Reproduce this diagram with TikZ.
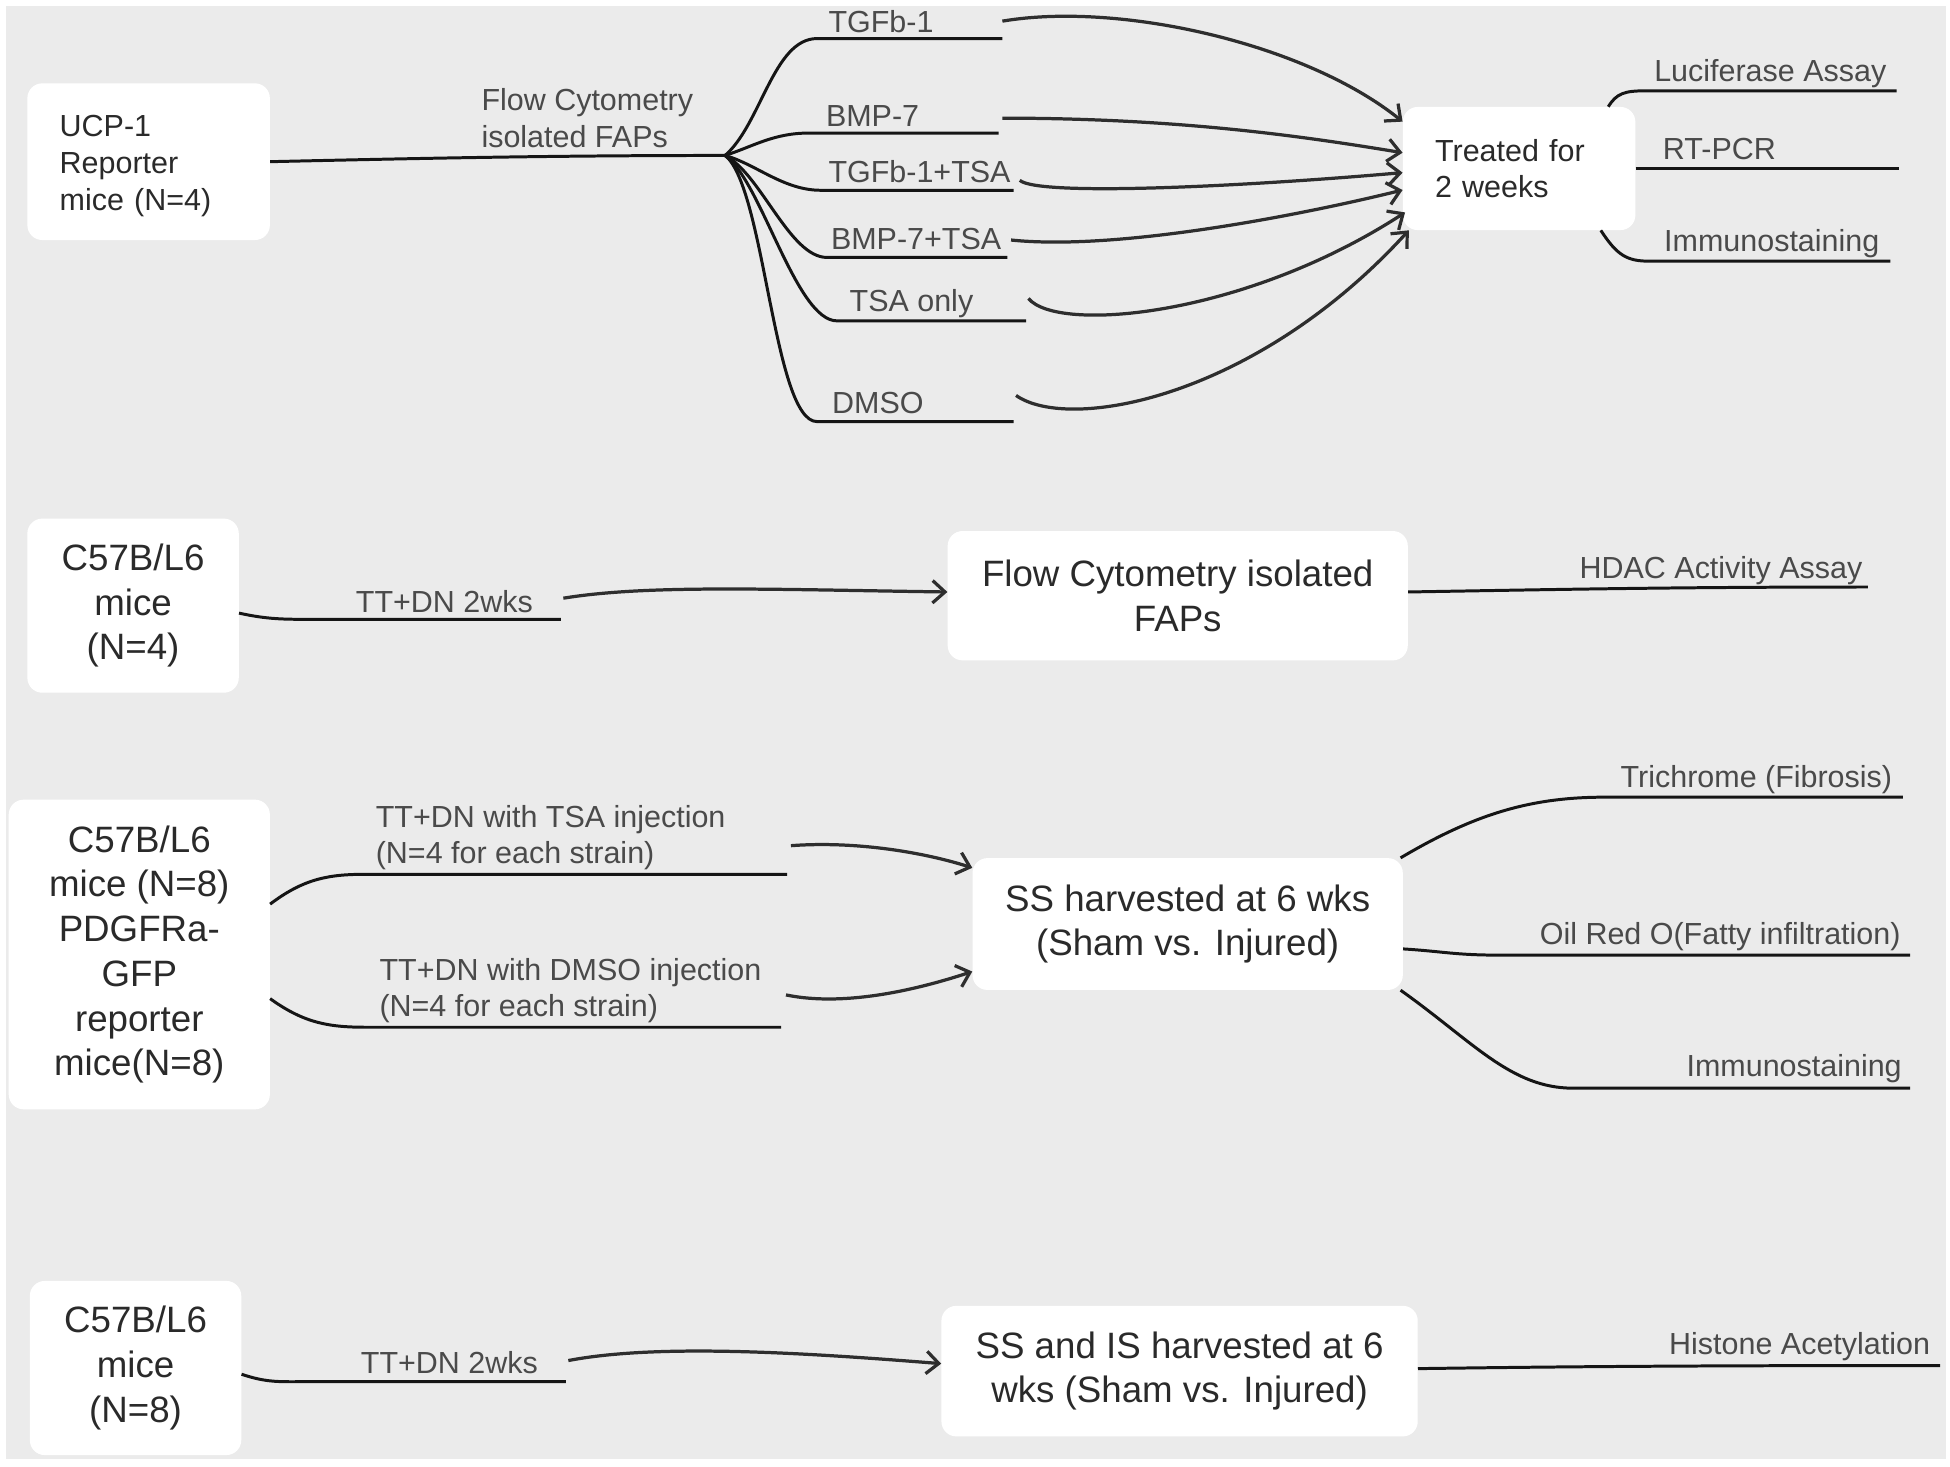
\documentclass[tikz,border=0pt]{standalone}
\usepackage{fontspec}
\setmainfont{Liberation Sans}
\usetikzlibrary{arrows.meta}
\definecolor{bg}{HTML}{EBEBEB}
\definecolor{boxtxt}{HTML}{2A2A2A}
\definecolor{lbl}{HTML}{4A4A4A}
\definecolor{ln}{HTML}{151515}
\definecolor{arrc}{HTML}{2E2E2E}
\begin{document}
\begin{tikzpicture}[x=1pt,y=-1pt,
 box/.style={draw=none,fill=white,rounded corners=12pt,text=boxtxt,inner sep=0pt},
 smallbox/.style={box,font=\fontsize{24.5}{29.5}\selectfont,align=left,inner xsep=26pt},
 bigbox/.style={box,font=\fontsize{29.5}{36}\selectfont,align=center},
 lab/.style={text=lbl,font=\fontsize{24.5}{29.5}\selectfont,inner sep=0pt,anchor=west,align=left},
 conn/.style={draw=ln,line width=2.4pt},
 arr/.style={draw=arrc,line width=2.6pt,-{Straight Barb[length=10pt,width=18pt]}}]
\useasboundingbox (0,0) rectangle (1568,1179);
\fill[bg] (5,5) rectangle (1565,1173);

% ---------------- Row 1 ----------------
\node[smallbox,text width=143pt,minimum height=126pt] (ucp) at (119.5,130) {\rule{0pt}{24pt}UCP-1\\Reporter\\mice (N=4)};
\node[smallbox,text width=135pt,minimum height=99pt] (tr) at (1221.5,135.5) {Treated for\\2 weeks};
\coordinate (bp) at (583,125);
\node[lab] (fcl) at (387,95) {Flow Cytometry\\isolated FAPs};
\draw[conn] (ucp.east) .. controls (350,127) and (450,125) .. (bp);

\coordinate (t1) at (806,31);
\coordinate (t2) at (803,107);
\coordinate (t3) at (815,153);
\coordinate (t4) at (810,207);
\coordinate (t5) at (825,258);
\coordinate (t6) at (815,339);
\draw[conn] (bp) .. controls (612,100) and (622,31) .. (657,31) -- (t1);
\draw[conn] (bp) .. controls (605,118) and (622,107) .. (650,107) -- (t2);
\draw[conn] (bp) .. controls (608,132) and (630,153) .. (660,153) -- (t3);
\draw[conn] (bp) .. controls (612,140) and (635,207) .. (665,207) -- (t4);
\draw[conn] (bp) .. controls (612,145) and (640,258) .. (673,258) -- (t5);
\draw[conn] (bp) .. controls (615,150) and (622,339) .. (657,339) -- (t6);

\node[lab] (l1) at (666,17) {TGFb-1};
\node[lab] (l2) at (664,93) {BMP-7};
\node[lab] (l3) at (666,138) {TGFb-1+TSA};
\node[lab] (l4) at (668,192) {BMP-7+TSA};
\node[lab] (l5) at (683,244) {TSA only};
\node[lab] (l6) at (669,324) {DMSO};

\coordinate (a1) at (806,17);
\coordinate (a2) at (806,95);
\coordinate (a3) at (820,145);
\coordinate (a4) at (813,193);
\coordinate (a5) at (827,240);
\coordinate (a6) at (817,318);
\draw[arr] (a1) .. controls (900,1) and (1050,35) .. ([yshift=-12pt]tr.north west);
\draw[arr] (a2) .. controls (950,95) and (1050,110) .. ([yshift=-37pt]tr.north west);
\draw[arr] (a3) .. controls (835,158) and (1000,150) .. ([yshift=-53pt]tr.north west);
\draw[arr] (a4) .. controls (900,202) and (1050,172) .. ([yshift=-67pt]tr.north west);
\draw[arr] (a5) .. controls (850,268) and (1000,255) .. ([xshift=2pt,yshift=-85pt]tr.north west);
\draw[arr] (a6) .. controls (860,348) and (1010,320) .. ([xshift=5pt]tr.south west);

\coordinate (o1) at (1525,73);
\coordinate (o2) at (1527,135.5);
\coordinate (o3) at (1520,210);
\draw[conn] ([xshift=-22pt]tr.north east) .. controls (1300,75) and (1306,73) .. (1324,73) -- (o1);
\draw[conn] (tr.east) -- (o2);
\draw[conn] ([xshift=-28pt]tr.south east) .. controls (1300,205) and (1308,210) .. (1326,210) -- (o3);
\node[lab] (lo1) at (1330,59) {Luciferase Assay};
\node[lab] (lo2) at (1337,120) {RT-PCR};
\node[lab] (lo3) at (1338,196) {Immunostaining};

% ---------------- Row 2 ----------------
\node[bigbox,minimum width=170pt,minimum height=140pt] (b2) at (107,487) {C57B/L6\\mice\\(N=4)};
\node[bigbox,minimum width=370pt,minimum height=104pt] (fc) at (947,479) {Flow Cytometry isolated\\FAPs};
\coordinate (e2) at (451,498);
\draw[conn] ([yshift=-6pt]b2.east) .. controls (215,498) and (228,498) .. (250,498) -- (e2);
\node[lab] (tt2) at (286,484) {TT+DN 2wks};
\coordinate (s2) at (453,481);
\draw[arr] (s2) .. controls (520,470) and (620,474) .. ([yshift=3pt]fc.west);
\coordinate (h2) at (1502,472);
\draw[conn] ([yshift=3pt]fc.east) .. controls (1250,474) and (1350,472) .. (h2);
\node[lab] (hd) at (1270,459) {HDAC Activity Assay};

% ---------------- Row 3 ----------------
\node[bigbox,minimum width=210pt,minimum height=249pt] (b3) at (112,767.5) {C57B/L6\\mice (N=8)\\PDGFRa-\\GFP\\reporter\\mice(N=8)};
\node[bigbox,minimum width=346pt,minimum height=106pt] (ss) at (955,743) {SS harvested at 6 wks\\(Sham vs. Injured)};
\coordinate (e3a) at (633,703);
\coordinate (e3b) at (628,826);
\draw[conn] ([yshift=40.5pt]b3.east) .. controls (245,706) and (265,703) .. (295,703) -- (e3a);
\draw[conn] ([yshift=-35.5pt]b3.east) .. controls (245,823) and (265,826) .. (295,826) -- (e3b);
\node[lab] (tsa) at (302,673.5) {TT+DN with TSA injection\\(N=4 for each strain)};
\node[lab] (dmso) at (305,796.5) {TT+DN with DMSO injection\\(N=4 for each strain)};
\coordinate (s3a) at (636,680);
\coordinate (s3b) at (632,800);
\draw[arr] (s3a) .. controls (690,676) and (745,686) .. ([yshift=-8pt]ss.north west);
\draw[arr] (s3b) .. controls (680,810) and (740,795) .. ([yshift=15pt]ss.south west);
\coordinate (o4) at (1530,641);
\coordinate (o5) at (1536,768);
\coordinate (o6) at (1536,875);
\draw[conn] ([xshift=-2pt]ss.north east) .. controls (1185,655) and (1230,641) .. (1290,641) -- (o4);
\draw[conn] ([yshift=-20pt]ss.east) .. controls (1160,765) and (1170,768) .. (1205,768) -- (o5);
\draw[conn] ([xshift=-2pt]ss.south east) .. controls (1185,838) and (1215,875) .. (1265,875) -- (o6);
\node[lab] (tri) at (1303,627) {Trichrome (Fibrosis)};
\node[lab] (oil) at (1238,753) {Oil Red O(Fatty infiltration)};
\node[lab] (imm) at (1356,859) {Immunostaining};

% ---------------- Row 4 ----------------
\node[bigbox,minimum width=170pt,minimum height=140pt] (b4) at (109,1100) {C57B/L6\\mice\\(N=8)};
\node[bigbox,minimum width=383pt,minimum height=105pt] (sis) at (948.5,1102.5) {SS and IS harvested at 6\\wks (Sham vs. Injured)};
\coordinate (e4) at (455,1111);
\draw[conn] ([yshift=-5pt]b4.east) .. controls (215,1112) and (225,1111) .. (248,1111) -- (e4);
\node[lab] (tt4) at (290,1096) {TT+DN 2wks};
\coordinate (s4) at (457,1094);
\draw[arr] (s4) .. controls (530,1080) and (650,1088) .. ([yshift=6pt]sis.west);
\coordinate (h4) at (1560,1098);
\draw[conn] ([yshift=2pt]sis.east) .. controls (1250,1099) and (1350,1098) .. (h4);
\node[lab] (hist) at (1342,1083) {Histone Acetylation};
\end{tikzpicture}
\end{document}
